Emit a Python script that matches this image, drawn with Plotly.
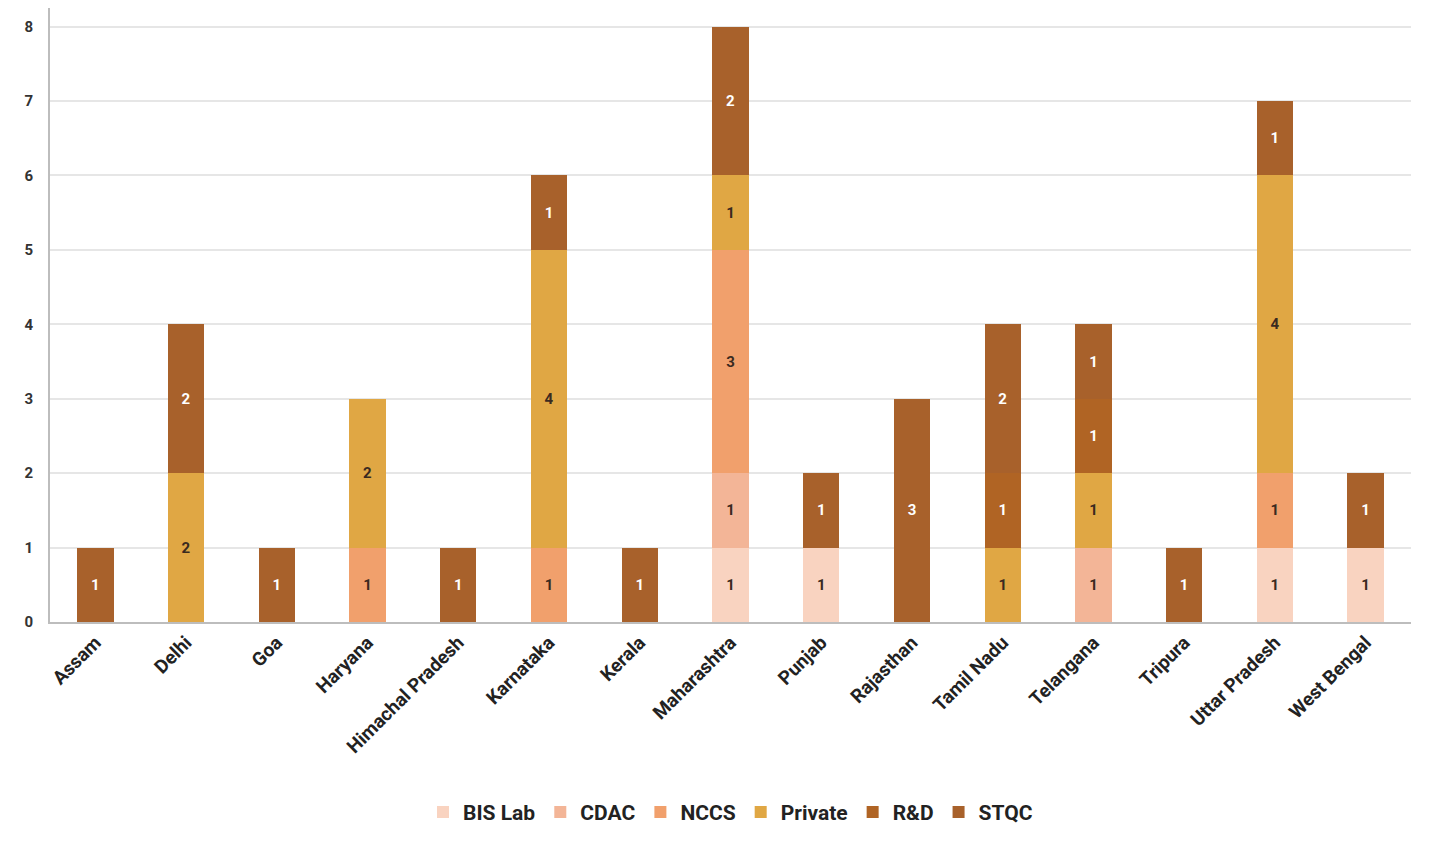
import plotly.graph_objects as go

states = ["Assam", "Delhi", "Goa", "Haryana", "Himachal Pradesh", "Karnataka", "Kerala",
          "Maharashtra", "Punjab", "Rajasthan", "Tamil Nadu", "Telangana", "Tripura",
          "Uttar Pradesh", "West Bengal"]

bis_lab = [0, 0, 0, 0, 0, 0, 0, 1, 1, 0, 0, 0, 0, 1, 1]
cdac    = [0, 0, 0, 0, 0, 0, 0, 1, 0, 0, 0, 1, 0, 0, 0]
nccs    = [0, 0, 0, 1, 0, 1, 0, 3, 0, 0, 0, 0, 0, 1, 0]
private = [0, 2, 0, 2, 0, 4, 0, 1, 0, 0, 1, 1, 0, 4, 0]
r_and_d = [0, 0, 0, 0, 0, 0, 0, 0, 0, 0, 1, 1, 0, 0, 0]
stqc    = [1, 2, 1, 0, 1, 1, 1, 2, 1, 3, 2, 1, 1, 1, 1]

series = [
    ("BIS Lab", bis_lab, "#F9D3C0", "#3a2a20"),
    ("CDAC", cdac, "#F3B597", "#3a2a20"),
    ("NCCS", nccs, "#F1A06C", "#3a2a20"),
    ("Private", private, "#E0A744", "#3a2a20"),
    ("R&D", r_and_d, "#B06424", "#FFFFFF"),
    ("STQC", stqc, "#A8612B", "#FFFFFF"),
]

fig = go.Figure()
for name, vals, color, tcolor in series:
    y = [v if v else None for v in vals]
    txt = [str(v) if v else "" for v in vals]
    fig.add_trace(go.Bar(
        x=states, y=y, name=name, marker=dict(color=color, line=dict(width=0)),
        text=txt, textposition="inside", insidetextanchor="middle",
        textangle=0,
        textfont=dict(color=tcolor, size=15, family="Roboto", weight="bold"),
    ))

fig.update_layout(
    barmode="stack",
    bargap=0.6,
    width=1440, height=841,
    margin=dict(l=50, r=29, t=8, b=217),
    plot_bgcolor="white", paper_bgcolor="white",
    font=dict(family="Roboto", color="#333333"),
    uniformtext=dict(minsize=8, mode="show"),
    legend=dict(orientation="h", x=0.5, xanchor="center", y=-0.31, yanchor="middle",
                font=dict(size=21, family="Roboto", color="#222222", weight="bold"),
                itemwidth=30, traceorder="normal"),
    xaxis=dict(tickangle=-45, tickfont=dict(size=19, family="Roboto", color="#222222", weight="bold"),
               showline=True, linecolor="#BDBDBD", linewidth=2, showgrid=False, ticks="",
               automargin=False),
    yaxis=dict(range=[0, 8.25], dtick=1, showgrid=True, gridcolor="#E6E6E6", gridwidth=2,
               showline=True, linecolor="#BDBDBD", linewidth=2, zeroline=False,
               tickfont=dict(size=15, family="Roboto", color="#333333", weight="bold"),
               ticklabelstandoff=12, automargin=False),
)

fig.write_html("out.html")
